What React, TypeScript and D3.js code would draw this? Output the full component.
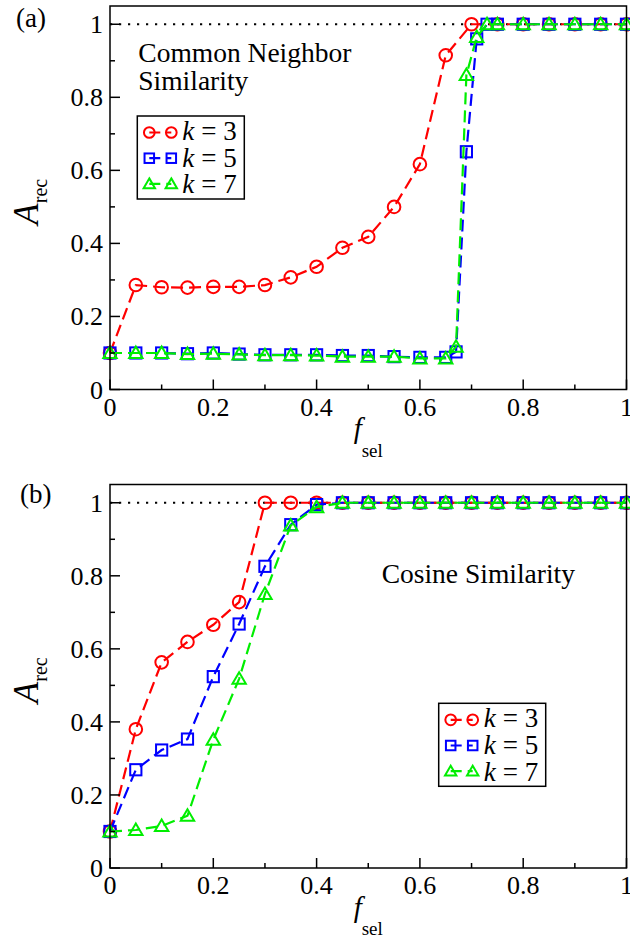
import React from 'react';
import * as d3 from 'd3';

// ---------- data ----------
const xTickValues = [0, 0.2, 0.4, 0.6, 0.8, 1];
const xTickLabels = ['0', '0.2', '0.4', '0.6', '0.8', '1'];
const yTickValues = [0, 0.2, 0.4, 0.6, 0.8, 1];
const yTickLabels = ['0', '0.2', '0.4', '0.6', '0.8', '1'];
const minorTickValues = [0.1, 0.3, 0.5, 0.7, 0.9];

const kValues = ['3', '5', '7'];

// Panel (a): Common Neighbor Similarity
const fA_k3 = [0, 0.05, 0.1, 0.15, 0.2, 0.25, 0.3, 0.35, 0.4, 0.45, 0.5, 0.55, 0.6, 0.65, 0.7, 0.75, 0.8, 0.85, 0.9, 0.95, 1];
const aA_k3 = [0.1, 0.286, 0.28, 0.279, 0.281, 0.281, 0.286, 0.307, 0.336, 0.388, 0.418, 0.5, 0.617, 0.915, 1, 1, 1, 1, 1, 1, 1];
const fA_k5 = [0, 0.05, 0.1, 0.15, 0.2, 0.25, 0.3, 0.35, 0.4, 0.45, 0.5, 0.55, 0.6, 0.65, 0.67, 0.69, 0.71, 0.73, 0.75, 0.8, 0.85, 0.9, 0.95, 1];
const aA_k5 = [0.1, 0.1, 0.1, 0.098, 0.1, 0.097, 0.095, 0.095, 0.095, 0.093, 0.093, 0.09, 0.088, 0.088, 0.103, 0.651, 0.96, 1, 1, 1, 1, 1, 1, 1];
const fA_k7 = [0, 0.05, 0.1, 0.15, 0.2, 0.25, 0.3, 0.35, 0.4, 0.45, 0.5, 0.55, 0.6, 0.65, 0.67, 0.69, 0.71, 0.73, 0.75, 0.8, 0.85, 0.9, 0.95, 1];
const aA_k7 = [0.1, 0.1, 0.1, 0.097, 0.098, 0.096, 0.094, 0.094, 0.093, 0.09, 0.09, 0.09, 0.085, 0.085, 0.117, 0.861, 0.965, 1, 1, 1, 1, 1, 1, 1];

// Panel (b): Cosine Similarity
const fB = [0, 0.05, 0.1, 0.15, 0.2, 0.25, 0.3, 0.35, 0.4, 0.45, 0.5, 0.55, 0.6, 0.65, 0.7, 0.75, 0.8, 0.85, 0.9, 0.95, 1];
const aB_k3 = [0.1, 0.38, 0.563, 0.619, 0.666, 0.728, 1, 1, 1, 1, 1, 1, 1, 1, 1, 1, 1, 1, 1, 1, 1];
const aB_k5 = [0.1, 0.269, 0.323, 0.353, 0.524, 0.668, 0.826, 0.94, 0.995, 1, 1, 1, 1, 1, 1, 1, 1, 1, 1, 1, 1];
const aB_k7 = [0.1, 0.104, 0.115, 0.143, 0.351, 0.518, 0.75, 0.938, 0.988, 1, 1, 1, 1, 1, 1, 1, 1, 1, 1, 1, 1];

// ---------- styles ----------
const COLORS = ['#ff0000', '#0000ff', '#00ee00'];
const SHAPES = ['circle', 'square', 'triangle'];
const FONT = "'Liberation Serif', 'DejaVu Serif', 'Times New Roman', Times, serif";
const TXT = { fontFamily: FONT };

const W = 630;
const H = 938;
const LEFT = 110;
const RIGHT = 626.5;

type Series = { f: number[]; a: number[] };

function Marker({ shape, x, y, color, s = 1 }: any) {
  const sw = 2;
  if (shape === 'circle') {
    return <circle cx={x} cy={y} r={6.3 * s} fill="none" stroke={color} strokeWidth={sw} />;
  }
  if (shape === 'square') {
    const h = 5.6 * s;
    return <rect x={x - h} y={y - h} width={2 * h} height={2 * h} fill="none" stroke={color} strokeWidth={sw} />;
  }
  const t = s;
  const pts = `${x},${y - 6.5 * t} ${x + 6.7 * t},${y + 5 * t} ${x - 6.7 * t},${y + 5 * t}`;
  return <polygon points={pts} fill="none" stroke={color} strokeWidth={sw} />;
}

function Panel({ top, bottom, series, label, labelX, labelY, annot, legend }: any) {
  const x = d3.scaleLinear().domain([0, 1]).range([LEFT, RIGHT]);
  const y = d3.scaleLinear().domain([0, 1.05]).range([bottom, top]);
  const line = d3
    .line<[number, number]>()
    .x((d) => x(d[0]))
    .y((d) => y(d[1]));

  const midY = (top + bottom) / 2;

  return (
    <g>
      {/* reference dotted line at 1 */}
      <line x1={x(0)} x2={x(1)} y1={y(1)} y2={y(1)} stroke="#000" strokeWidth={2.2} strokeDasharray="2.2,6.8" />

      {/* series */}
      {series.map((s: Series, i: number) => {
        const pts: [number, number][] = s.f.map((f, j) => [f, s.a[j]]);
        return (
          <g key={i}>
            <path d={line(pts) || ''} fill="none" stroke={COLORS[i]} strokeWidth={2.2} strokeDasharray="12,6" />
            {pts.map((p, j) => (
              <Marker key={j} shape={SHAPES[i]} x={x(p[0])} y={y(p[1])} color={COLORS[i]} />
            ))}
          </g>
        );
      })}

      {/* frame */}
      <rect x={LEFT} y={top} width={RIGHT - LEFT} height={bottom - top} fill="none" stroke="#000" strokeWidth={1.5} />

      {/* ticks */}
      {xTickValues.map((v, i) => (
        <g key={'xt' + i}>
          <line x1={x(v)} x2={x(v)} y1={bottom} y2={bottom - 10} stroke="#000" strokeWidth={1.5} />
          <text x={x(v)} y={bottom + 26} textAnchor="middle" fontSize={26} style={TXT}>
            {xTickLabels[i]}
          </text>
        </g>
      ))}
      {minorTickValues.map((v, i) => (
        <g key={'mt' + i}>
          <line x1={x(v)} x2={x(v)} y1={bottom} y2={bottom - 5} stroke="#000" strokeWidth={1.5} />
          <line x1={LEFT} x2={LEFT + 5} y1={y(v)} y2={y(v)} stroke="#000" strokeWidth={1.5} />
        </g>
      ))}
      {yTickValues.map((v, i) => (
        <g key={'yt' + i}>
          <line x1={LEFT} x2={LEFT + 10} y1={y(v)} y2={y(v)} stroke="#000" strokeWidth={1.5} />
          <text x={103} y={y(v) + 9} textAnchor="end" fontSize={26} style={TXT}>
            {yTickLabels[i]}
          </text>
        </g>
      ))}

      {/* axis labels */}
      <text x={(LEFT + RIGHT) / 2} y={bottom + 48.5} textAnchor="middle" style={TXT}>
        <tspan fontStyle="italic" fontSize={29}>f</tspan>
        <tspan fontSize={19} dy={18.5}>sel</tspan>
      </text>
      <text transform={`translate(38,${midY + 4}) rotate(-90)`} textAnchor="middle" style={TXT}>
        <tspan fontStyle="italic" fontSize={35}>A</tspan>
        <tspan fontSize={20} dy={9}>rec</tspan>
      </text>

      {/* panel label */}
      <text x={labelX} y={labelY} fontSize={27} style={TXT}>
        {label}
      </text>

      {/* annotation */}
      {annot.lines.map((t: string, i: number) => (
        <text key={i} x={annot.x} y={annot.y + i * 28.3} fontSize={27.5} style={TXT}>
          {t}
        </text>
      ))}

      {/* legend */}
      <g>
        <rect x={legend.x} y={legend.y} width={107} height={83} fill="#fff" stroke="#000" strokeWidth={1.5} />
        {kValues.map((k, i) => {
          const cy = legend.y + 16.5 + i * 25.7;
          const x1 = legend.x + 12;
          const x2 = legend.x + 34;
          const ty = legend.y + 24 + i * 26.6;
          return (
            <g key={i}>
              <line x1={x1} x2={x2} y1={cy} y2={cy} stroke={COLORS[i]} strokeWidth={2.2} strokeDasharray="11,6" />
              <Marker shape={SHAPES[i]} x={x1} y={cy} color={COLORS[i]} s={0.85} />
              <Marker shape={SHAPES[i]} x={x2} y={cy} color={COLORS[i]} s={0.85} />
              <text x={legend.x + 45} y={ty} fontSize={27} style={TXT}>
                <tspan fontStyle="italic">k</tspan>
                <tspan x={legend.x + 64}>{'= ' + k}</tspan>
              </text>
            </g>
          );
        })}
      </g>
    </g>
  );
}

export default function App() {
  const seriesA: Series[] = [
    { f: fA_k3, a: aA_k3 },
    { f: fA_k5, a: aA_k5 },
    { f: fA_k7, a: aA_k7 },
  ];
  const seriesB: Series[] = [
    { f: fB, a: aB_k3 },
    { f: fB, a: aB_k5 },
    { f: fB, a: aB_k7 },
  ];
  return (
    <svg
      width={W}
      height={H}
      viewBox={`0 0 ${W} ${H}`}
      style={{ position: 'absolute', left: 0, top: 0, background: '#fff', fontFamily: FONT }}
    >
      <rect x={0} y={0} width={W} height={H} fill="#fff" />
      <Panel
        top={6}
        bottom={389.5}
        series={seriesA}
        label="(a)"
        labelX={16}
        labelY={27}
        annot={{ x: 138.3, y: 61.7, lines: ['Common Neighbor', 'Similarity'] }}
        legend={{ x: 137.3, y: 116 }}
      />
      <Panel
        top={484.5}
        bottom={868}
        series={seriesB}
        label="(b)"
        labelX={20}
        labelY={503}
        annot={{ x: 381.7, y: 583.3, lines: ['Cosine Similarity'] }}
        legend={{ x: 438.7, y: 703.3 }}
      />
    </svg>
  );
}
